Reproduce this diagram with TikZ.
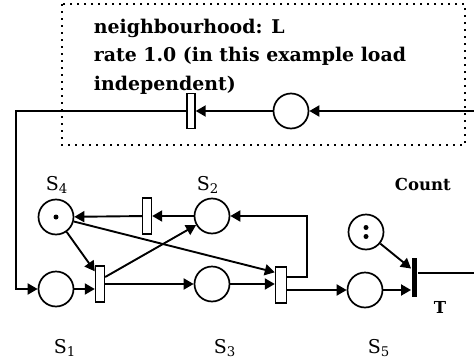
\documentclass[tikz,border=0pt]{standalone}
\usepackage{fontspec}
\setmainfont{DejaVu Serif}
\usetikzlibrary{arrows.meta,calc}
\begin{document}
\begin{tikzpicture}[x=1pt,y=-1pt, line width=1.9pt,
 arr/.style={-{Triangle[length=10pt,width=11pt]}},
 place/.style={circle,draw,minimum size=35pt,inner sep=0pt,line width=1.7pt},
 trans/.style={rectangle,draw,fill=white,minimum width=9pt,minimum height=36pt,inner sep=0pt,line width=1.4pt},
 bar/.style={rectangle,fill=black,minimum width=5pt,minimum height=39pt,inner sep=0pt},
 lbl/.style={anchor=base west,inner sep=0pt,font=\fontsize{19}{22}\selectfont},
 blbl/.style={anchor=base west,inner sep=0pt,font=\bfseries\fontsize{16.5}{19}\selectfont},
 dotbox/.style={line width=1.6pt,dash pattern=on 1.6pt off 5.4pt},
 token/.style={circle,fill=black,inner sep=0pt,minimum size=5pt}
]
\useasboundingbox (0,0) rectangle (474,359);

% neighbourhood region
\draw[dotbox] (62,4) rectangle (465,145);
\node[anchor=north west, inner sep=0pt, align=left, font=\bfseries\fontsize{18.9}{28.5}\selectfont] (txt) at (93,18) {neighbourhood: L\\rate 1.0 (in this example load\\independent)};

% nodes
\node[place] (L) at (291,111) {};
\node[trans,minimum width=8pt,minimum height=35pt] (tL) at (191,111) {};
\coordinate (eR) at (474,111);
\coordinate (c1) at (16,111);
\node[place] (S4) at (56,217) {};
\node[place] (S1) at (56,289) {};
\node[place] (S2) at (212,216) {};
\node[place] (S3) at (212,284) {};
\node[place] (S5) at (365,290) {};
\node[place] (C) at (366,232) {};
\node[trans] (t1) at (100,284) {};
\node[trans] (t2) at (147,216) {};
\node[trans,minimum width=11pt] (t3) at (281,285) {};
\node[bar] (T) at (414.5,277) {};
\coordinate (fb) at (307,216);
\coordinate (Tout) at (474,273);

% tokens
\node[token] (k1) at (S4) {};
\node[token] (k2) at ([yshift=4.5pt]C.center) {};
\node[token] (k3) at ([yshift=-4.5pt]C.center) {};

% connectors
\draw[arr] (eR) -- (L);
\draw[arr] (L) -- (tL);
\draw[arr] (tL) -- (c1) |- (S1);
\draw[arr] (S1) -- (S1 -| t1.west);
\draw[arr] (S4) -- ([yshift=-6pt]t1.north west);
\draw[arr] ([yshift=7pt]t1.east) -- (S2);
\draw[arr] (t1.east |- S3) -- (S3);
\draw[arr] (S2) -- (t2);
\draw[arr] (t2) -- (S4);
\draw[arr] (S4) -- ([yshift=-6pt]t3.north west);
\draw[arr] (S3) -- (S3 -| t3.west);
\draw[arr] ([yshift=8pt]t3.east) -| (fb) -- (S2);
\draw[arr] (t3.east |- S5) -- (S5);
\draw[arr] (S5) -- (S5 -| T.west);
\draw[arr] (C) -- ([yshift=-12pt]T.north west);
\draw (T.east |- Tout) -- (Tout);

% labels
\node[lbl] (lS4) at (45,190) {S\textsubscript{4}};
\node[lbl] (lS2) at (196,190) {S\textsubscript{2}};
\node[lbl] (lS1) at (53,353) {S\textsubscript{1}};
\node[lbl] (lS3) at (213,353) {S\textsubscript{3}};
\node[lbl] (lS5) at (367,353) {S\textsubscript{5}};
\node[blbl] (lC) at (394,190) {Count};
\node[blbl] (lT) at (433,313) {T};
\end{tikzpicture}
\end{document}
